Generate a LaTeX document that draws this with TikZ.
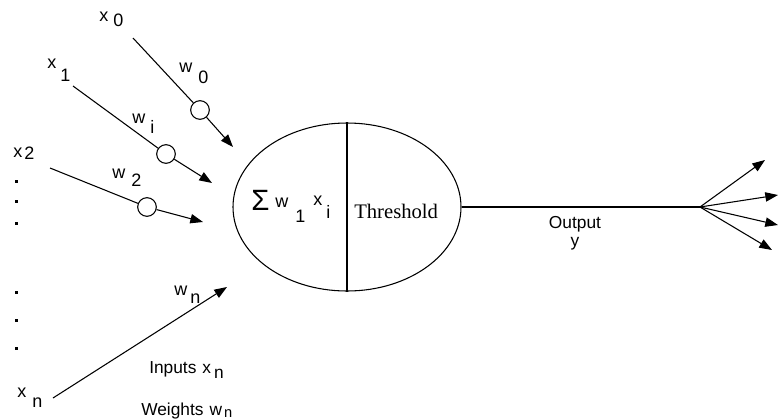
\documentclass[tikz,border=0pt]{standalone}
\usepackage{fontspec}
\setmainfont{Liberation Sans}
\newfontfamily\seriffont{Liberation Serif}
\usetikzlibrary{shapes.geometric,arrows.meta}
% #1 base, #2 subscript, #3 drop (px), #4 gap (px)
\newcommand\subl[4]{#1\hspace{#4\dimexpr0.75pt\relax}\raisebox{-#3\dimexpr0.75pt\relax}{#2}}
\begin{document}
\begin{tikzpicture}[x=0.75pt,y=-0.75pt,
  wire/.style={line width=0.8pt},
  arr/.style={wire,-{Triangle[length=9.5pt,width=7pt]}},
  wt/.style={circle,draw,line width=0.8pt,minimum size=14pt,inner sep=0pt},
  lab/.style={font=\fontsize{13.5}{15}\selectfont,inner sep=0pt,anchor=base west},
  big/.style={font=\fontsize{13}{15}\selectfont,inner sep=0pt,anchor=base west},
  sq/.style={fill=black}]
\useasboundingbox (0,0) rectangle (779,419);

% neuron body
\node[ellipse,draw,line width=0.8pt,minimum width=171pt,minimum height=126pt,inner sep=0pt] (body) at (347,207) {};
\draw[wire] (body.north) -- (body.south);
\node[inner sep=0pt,anchor=base west,font=\seriffont\fontsize{15.5}{17}\selectfont] (thr) at (354,218) {Threshold};
\node[inner sep=0pt,anchor=base west,font=\fontsize{22}{24}\selectfont] (sig) at (251,210) {Σ};
\node[lab] (sw) at (275,207) {\subl{w}{1}{15}{7}};
\node[lab] (sx) at (313,205) {\subl{x}{i}{13}{4}};

% inputs
\coordinate (s0) at (133,38);
\node[wt] (c0) at (200,110) {};
\coordinate (e0) at (233,147);
\draw[wire] (s0) -- (c0);
\draw[arr] (c0) -- (e0);

\coordinate (s1) at (73,86);
\node[wt] (c1) at (166,154) {};
\coordinate (e1) at (212,183);
\draw[wire] (s1) -- (c1);
\draw[arr] (c1) -- (e1);

\coordinate (s2) at (50,168);
\node[wt] (c2) at (147,207) {};
\coordinate (e2) at (203,222);
\draw[wire] (s2) -- (c2);
\draw[arr] (c2) -- (e2);

\coordinate (sn) at (53,398);
\coordinate (en) at (227,287);
\draw[arr] (sn) -- (en);

% labels
\node[lab] (lx0) at (99,21) {\subl{x}{0}{5}{5}};
\node[lab] (lx1) at (47,68) {\subl{x}{1}{13}{4}};
\node[lab] (lx2) at (13,157) {\subl{x}{2}{2}{2}};
\node[lab] (lxn) at (17,397) {\subl{x}{n}{10}{6}};
\node[lab] (lw0) at (179,72) {\subl{w}{0}{11}{6}};
\node[lab] (lwi) at (132,123) {\subl{w}{i}{10}{5}};
\node[lab] (lw2) at (112,178) {\subl{w}{2}{8}{6}};
\node[lab] (lwn) at (174,295) {\subl{w}{n}{8}{3}};

\node[big] (inp) at (149,373) {Inputs\hspace{6\dimexpr0.75pt\relax}\subl{x}{n}{5}{3}};
\node[big] (wgt) at (141,415) {Weights\hspace{6\dimexpr0.75pt\relax}\subl{w}{\fontsize{11}{12}\selectfont n}{2}{2}};

% dots
\foreach \yy in {181,201,223,292,320,348}
  \fill[sq] (14.5,\yy-1.5) rectangle ++(3.5,3.5);

% output
\coordinate (fan) at (700,207);
\draw[wire] (body.east) -- (fan);
\node[big,anchor=base] (outl) at (575,228) {Output};
\node[big,anchor=base] (outy) at (575,246) {y};
\coordinate (o1) at (765,160);
\coordinate (o2) at (778,195);
\coordinate (o3) at (778,225);
\coordinate (o4) at (772,250);
\foreach \t in {o1,o2,o3,o4} \draw[arr] (fan) -- (\t);
\end{tikzpicture}
\end{document}
